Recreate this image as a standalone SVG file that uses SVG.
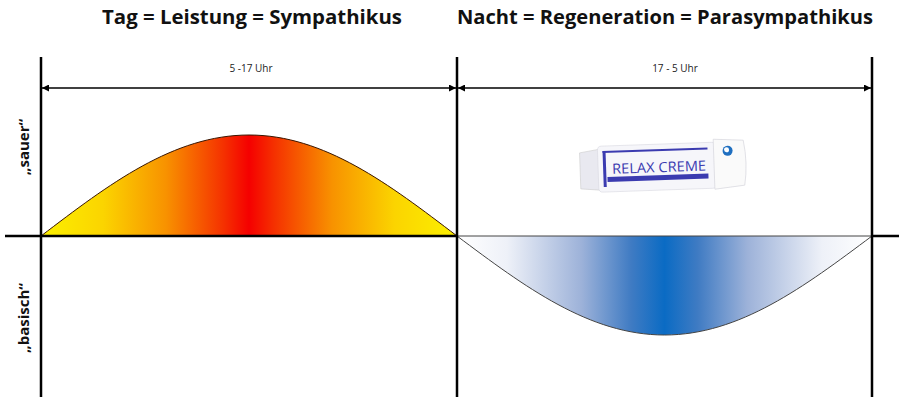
<svg xmlns="http://www.w3.org/2000/svg" width="907" height="405" viewBox="0 0 907 405">
<style>
.title{font-family:"Open Sans","Liberation Sans",sans-serif;font-weight:bold;font-size:20px;fill:#111}
.dim{font-family:"Open Sans","Liberation Sans",sans-serif;font-size:10px;fill:#222}
.side{font-family:"Open Sans","Liberation Sans",sans-serif;font-weight:bold;font-size:15px;fill:#111}
.axis{stroke:#000;stroke-width:2.5;fill:none}
.dimline{stroke:#000;stroke-width:1.4;fill:none}
</style>
<defs>
<linearGradient id="gRed" x1="41" y1="0" x2="457" y2="0" gradientUnits="userSpaceOnUse">
<stop offset="0" stop-color="#fbf000"/>
<stop offset="0.15" stop-color="#fbd400"/>
<stop offset="0.3" stop-color="#f89200"/>
<stop offset="0.44" stop-color="#f53000"/>
<stop offset="0.5" stop-color="#f50000"/>
<stop offset="0.56" stop-color="#f53000"/>
<stop offset="0.7" stop-color="#f89200"/>
<stop offset="0.85" stop-color="#fbd400"/>
<stop offset="1" stop-color="#fbf000"/>
</linearGradient>
<linearGradient id="gBlue" x1="457" y1="0" x2="872" y2="0" gradientUnits="userSpaceOnUse">
<stop offset="0" stop-color="#ffffff"/>
<stop offset="0.12" stop-color="#eef1f8"/>
<stop offset="0.3" stop-color="#9db2d9"/>
<stop offset="0.42" stop-color="#3f7bc3"/>
<stop offset="0.5" stop-color="#0a6bc4"/>
<stop offset="0.58" stop-color="#3f7bc3"/>
<stop offset="0.7" stop-color="#9db2d9"/>
<stop offset="0.88" stop-color="#eef1f8"/>
<stop offset="1" stop-color="#ffffff"/>
</linearGradient>
<marker id="arr" viewBox="0 0 10 10" refX="10" refY="5" markerWidth="8" markerHeight="7" markerUnits="userSpaceOnUse" orient="auto-start-reverse">
<path d="M0,0 L10,5 L0,10 z" fill="#000"/>
</marker>
</defs>

<g id="titles">
<text class="title" x="102" y="24" textLength="300" lengthAdjust="spacingAndGlyphs">Tag = Leistung = Sympathikus</text>
<text class="title" x="457" y="24" textLength="416" lengthAdjust="spacingAndGlyphs">Nacht = Regeneration = Parasympathikus</text>
</g>

<g id="curve-day">
<path d="M41,236 C108.8,184.3 173.7,135 249,135 C324.3,135 389.2,184.3 457,236 Z" fill="url(#gRed)" stroke="none"/>
<path d="M41,236 C108.8,184.3 173.7,135 249,135 C324.3,135 389.2,184.3 457,236" fill="none" stroke="#3a1500" stroke-width="1"/>
</g>

<g id="curve-night">
<path d="M457,236 C524.7,286.7 589.4,335 664.5,335 C739.6,335 804.3,286.7 872,236 Z" fill="url(#gBlue)" stroke="#444" stroke-width="1"/>
</g>

<g id="axes">
<line class="axis" x1="5" y1="236" x2="457" y2="236"/>
<line class="axis" x1="872" y1="236" x2="899" y2="236"/>
<line class="axis" x1="41" y1="57" x2="41" y2="397"/>
<line class="axis" x1="457" y1="57" x2="457" y2="397"/>
<line class="axis" x1="872" y1="57" x2="872" y2="397"/>
</g>

<g id="connectors">
<line class="dimline" x1="42" y1="88" x2="456" y2="88" marker-start="url(#arr)" marker-end="url(#arr)"/>
<line class="dimline" x1="458" y1="88" x2="871" y2="88" marker-start="url(#arr)" marker-end="url(#arr)"/>
</g>

<g id="labels">
<text class="dim" x="251" y="72" text-anchor="middle">5 -17 Uhr</text>
<text class="dim" x="675" y="72" text-anchor="middle">17 - 5 Uhr</text>
<text class="side" transform="translate(29,147) rotate(-90)" text-anchor="middle">„sauer“</text>
<text class="side" transform="translate(29,318) rotate(-90)" text-anchor="middle">„basisch“</text>
</g>

<g id="tube" transform="rotate(-2 663 164)">
<path d="M580,150 L600,147 L600,188 L580,186 Z" fill="#e9e9f0" stroke="#ccc" stroke-width="0.6"/>
<rect x="598" y="144" width="118" height="46" rx="4" fill="#f6f6fa" stroke="#d8d8e0" stroke-width="0.6"/>
<rect x="603" y="149" width="3" height="36" fill="#3b3bb0"/>
<rect x="603" y="149" width="105" height="2" fill="#3b3bb0"/>
<rect x="607" y="175" width="101" height="5" fill="#3b3bb0"/>
<text x="612" y="172" font-family="'Open Sans','Liberation Sans',sans-serif" font-size="14" fill="#3b3bb0" textLength="94" lengthAdjust="spacingAndGlyphs">RELAX CREME</text>
<path d="M714,141 L744,143 Q748,166 744,188 L714,191 Z" fill="#fafafa" stroke="#d0d0d8" stroke-width="0.6"/>
<circle cx="728" cy="153" r="5" fill="#1f6fc0"/>
<circle cx="727" cy="152" r="2.5" fill="#ffffff"/>
</g>
</svg>
